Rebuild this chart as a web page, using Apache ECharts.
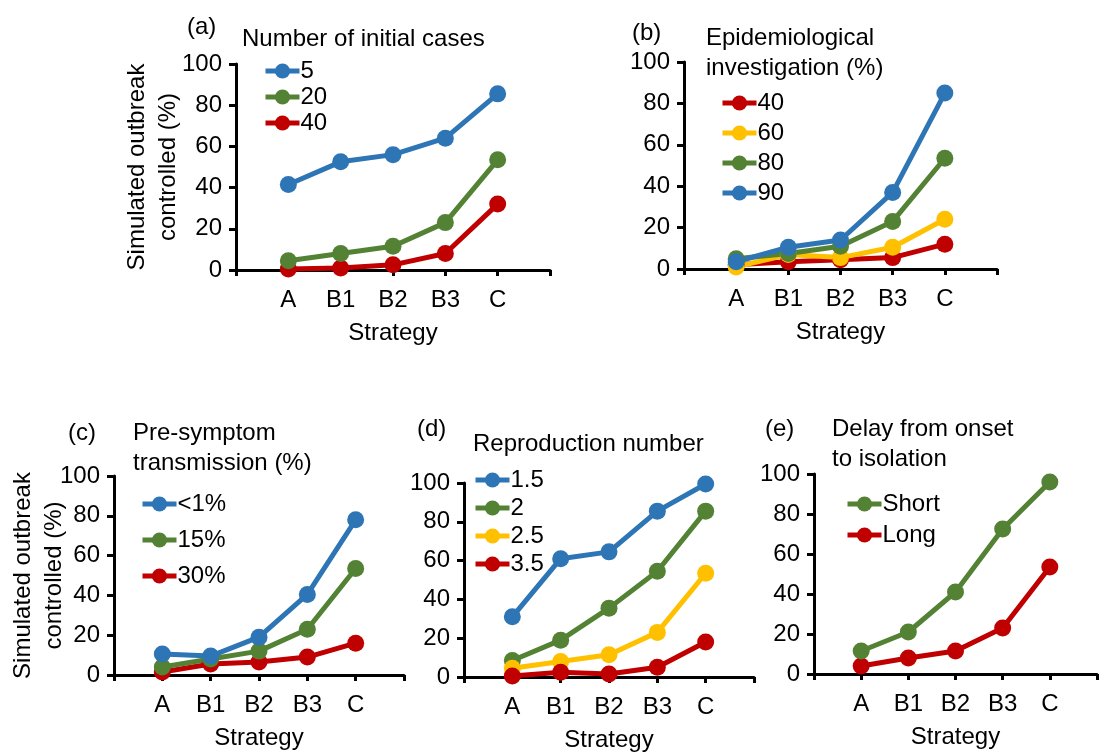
<!DOCTYPE html>
<html>
<head>
<meta charset="utf-8">
<script src="https://cdn.jsdelivr.net/npm/echarts@6/dist/echarts.min.js"></script>
<style>html,body{margin:0;padding:0;background:#fff}#c{width:1100px;height:753px}</style>
</head>
<body>
<div id="c"></div>
<script>
var categories = ['A', 'B1', 'B2', 'B3', 'C'];
var yTicks = [0, 20, 40, 60, 80, 100];

// (a) Number of initial cases
var a_5  = [41.5, 52.5, 56, 64, 85.5];
var a_20 = [4.5, 8, 11.5, 23, 53.5];
var a_40 = [0.5, 1, 2.5, 8, 32];
// (b) Epidemiological investigation (%)
var b_40 = [2, 3.5, 4.5, 5.5, 12];
var b_60 = [1, 7, 5.5, 10.5, 24];
var b_80 = [5, 7.5, 11, 23, 53.5];
var b_90 = [3.5, 10.5, 14, 37, 85];
// (c) Pre-symptom transmission (%)
var c_lt1 = [10.5, 9.5, 19, 40.5, 78];
var c_15  = [4, 8, 12, 23, 53.5];
var c_30  = [1.5, 5.5, 6.5, 9, 16];
// (d) Reproduction number
var d_15 = [31, 61, 64.5, 85.5, 99.5];
var d_2  = [8.5, 19, 35.5, 54.5, 85.5];
var d_25 = [4.5, 8, 11.5, 23, 53.5];
var d_35 = [0.5, 2.5, 1.5, 5, 18];
// (e) Delay from onset to isolation
var e_short = [11.5, 21, 41, 72.5, 96];
var e_long  = [4, 8, 11.5, 23, 53.5];

var BLUE = '#2E75B6', GREEN = '#548235', RED = '#C00000', YELLOW = '#FFC000';
var FONT = 'Liberation Sans, Arial, sans-serif';
var FS = 24;

var grids = [
  {left: 236, right: 550, top: 64, bottom: 483},
  {left: 684, right: 103, top: 62, bottom: 484},
  {left: 114, right: 696, top: 476, bottom: 78},
  {left: 464, right: 346, top: 483, bottom: 75},
  {left: 814, right: -4, top: 474, bottom: 79}
];
grids = grids.map(function (g) { return {left: g.left, top: g.top, width: (1100 - g.right) - g.left, height: (753 - g.bottom) - g.top}; });

function xAxis(i) {
  return {
    type: 'value', gridIndex: i, min: 0, max: categories.length + 1, interval: 1,
    name: 'Strategy', nameLocation: 'middle', nameGap: 51, nameMoveOverlap: false,
    nameTextStyle: {fontSize: FS, color: '#000', fontFamily: FONT},
    axisLine: {show: true, onZero: false, lineStyle: {color: '#000', width: 3}},
    axisTick: {show: true, inside: false, length: 6, lineStyle: {color: '#000', width: 3}},
    axisLabel: {margin: 18, fontSize: FS, color: '#000', fontFamily: FONT,
      formatter: function (v) { return categories[v - 1] || ''; }},
    splitLine: {show: false}
  };
}
function yAxis(i, nameGap) {
  var ax = {
    type: 'value', gridIndex: i, min: yTicks[0], max: yTicks[yTicks.length - 1], interval: 20,
    axisLine: {show: true, lineStyle: {color: '#000', width: 3}},
    axisTick: {show: true, inside: false, length: 7, lineStyle: {color: '#000', width: 3}},
    axisLabel: {margin: 14, fontSize: FS, color: '#000', fontFamily: FONT},
    splitLine: {show: false}
  };
  if (nameGap) {
    ax.name = 'Simulated outbreak\ncontrolled (%)';
    ax.nameLocation = 'middle';
    ax.nameGap = nameGap;
    ax.nameRotate = 90;
    ax.nameMoveOverlap = false;
    ax.nameTextStyle = {fontSize: FS, color: '#000', fontFamily: FONT, lineHeight: 31};
  }
  return ax;
}
function series(name, vals, color, gi) {
  return {
    name: name, type: 'line', xAxisIndex: gi, yAxisIndex: gi,
    data: vals.map(function (v, k) { return [k + 1, v]; }),
    symbol: 'circle', symbolSize: 17, showSymbol: true, clip: false,
    lineStyle: {color: color, width: 5},
    itemStyle: {color: color},
    emphasis: {disabled: true}, animation: false
  };
}
function legend(names, left, top, gap) {
  return {
    data: names, orient: 'vertical', left: left, top: top, padding: 0,
    itemWidth: 34, itemHeight: 19, itemGap: gap, selectedMode: false,
    lineStyle: {width: 5},
    textStyle: {fontSize: FS, color: '#000', fontFamily: FONT, padding: [0, 0, 0, -4]},
    formatter: function (n) { return n.split('|')[1]; }
  };
}
function title(text, left, top) {
  return {text: text, left: left, top: top, padding: 0,
    textStyle: {fontSize: FS, fontWeight: 'normal', color: '#000', fontFamily: FONT, lineHeight: 30}};
}

var option = {
  backgroundColor: '#fff',
  animation: false,
  title: [
    title('(a)', 187, 12), title('Number of initial cases', 242, 24),
    title('(b)', 632, 18), title('Epidemiological\ninvestigation (%)', 706, 23),
    title('(c)', 68, 418), title('Pre-symptom\ntransmission (%)', 133, 418),
    title('(d)', 417, 414), title('Reproduction number', 473, 429),
    title('(e)', 765, 414), title('Delay from onset\nto isolation', 832, 414)
  ],
  grid: grids,
  xAxis: [0, 1, 2, 3, 4].map(xAxis),
  yAxis: [yAxis(0, 52), yAxis(1, 0), yAxis(2, 44), yAxis(3, 0), yAxis(4, 0)],
  legend: [
    legend(['a|5', 'a|20', 'a|40'], 263, 59, 2),
    legend(['b|40', 'b|60', 'b|80', 'b|90'], 720, 91, 6),
    legend(['c|<1%', 'c|15%', 'c|30%'], 140, 492, 12),
    legend(['d|1.5', 'd|2', 'd|2.5', 'd|3.5'], 473, 468, 4),
    legend(['e|Short', 'e|Long'], 845, 492, 7)
  ],
  series: [
    series('a|40', a_40, RED, 0), series('a|20', a_20, GREEN, 0), series('a|5', a_5, BLUE, 0),
    series('b|40', b_40, RED, 1), series('b|60', b_60, YELLOW, 1), series('b|80', b_80, GREEN, 1), series('b|90', b_90, BLUE, 1),
    series('c|30%', c_30, RED, 2), series('c|15%', c_15, GREEN, 2), series('c|<1%', c_lt1, BLUE, 2),
    series('d|1.5', d_15, BLUE, 3), series('d|2', d_2, GREEN, 3), series('d|2.5', d_25, YELLOW, 3), series('d|3.5', d_35, RED, 3),
    series('e|Long', e_long, RED, 4), series('e|Short', e_short, GREEN, 4)
  ]
};
var chart = echarts.init(document.getElementById('c'), null, {renderer: 'canvas'});
chart.setOption(option);
</script>
</body>
</html>
